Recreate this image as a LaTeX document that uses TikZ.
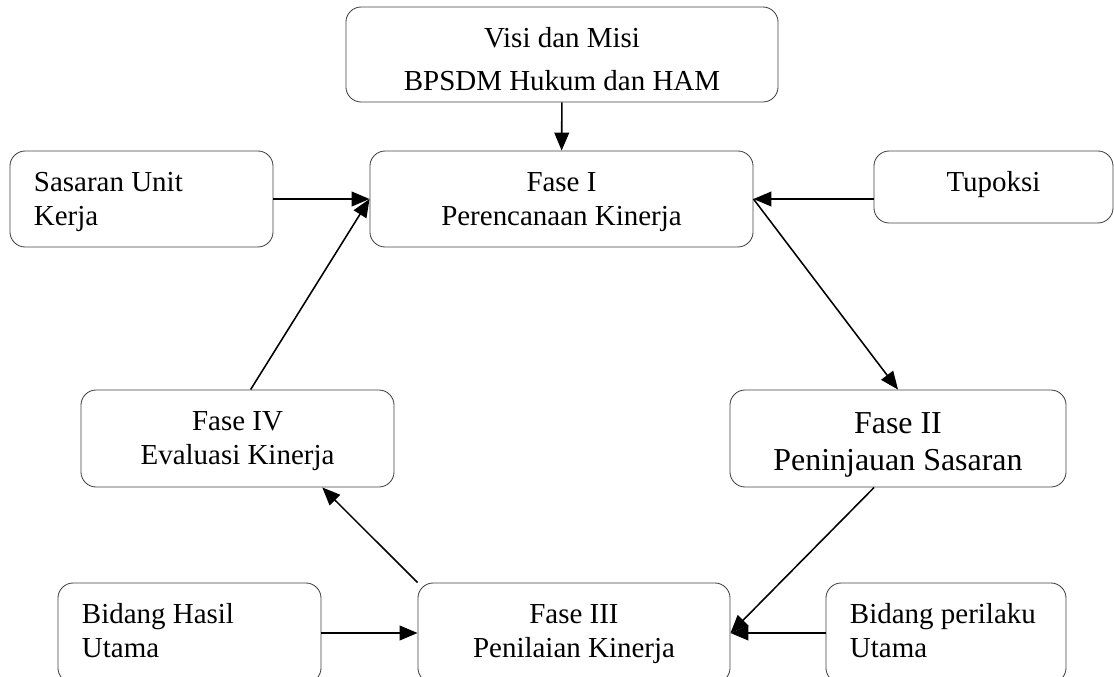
\documentclass[tikz,border=0pt]{standalone}
\usepackage{fontspec}
\setmainfont{Liberation Serif}
\usetikzlibrary{arrows.meta}
\begin{document}
\begin{tikzpicture}[x=0.025cm,y=-0.025cm]
	\tikzset{box/.style = {shape=rectangle,draw=black!75,rounded corners=0.38cm,line width=0.6pt,inner sep=0pt,align=flush center,text height=1.02cm,font=\fontsize{20.6}{23.7}\selectfont}}
	\tikzset{side/.style = {box,align=flush left,inner xsep=0.6cm}}
	\tikzset{flow/.style = {-{Triangle[length=4.5mm,width=3.7mm]},line width=1.1pt}}
	\useasboundingbox (0,0) rectangle (1114,677);
	% fase
	\node[box,text width=10.8cm,text depth=1.355cm,font=\fontsize{20.6}{30.6}\selectfont] (visi) at (562,54.5) {Visi dan Misi\\BPSDM Hukum dan HAM};
	\node[box,text width=9.575cm,text depth=1.38cm] (fase1) at (561.5,199) {Fase I\\Perencanaan Kinerja};
	\node[box,text width=8.4cm,text height=1.09cm,text depth=1.335cm,font=\fontsize{22.7}{26.1}\selectfont] (fase2) at (898,438.5) {Fase II\\Peninjauan Sasaran};
	\node[box,text width=7.8cm,text depth=1.48cm] (fase3) at (574,633) {Fase III\\Penilaian Kinerja};
	\node[box,text width=7.825cm,text depth=1.405cm] (fase4) at (237.5,438.5) {Fase IV\\Evaluasi Kinerja};
	% masukan
	\node[side,text width=5.375cm,text depth=1.38cm] (sasaran) at (141.5,199) {Sasaran Unit\\Kerja};
	\node[box,text width=5.975cm,text depth=0.78cm] (tupoksi) at (993.5,187) {Tupoksi};
	\node[side,text width=5.375cm,text depth=1.48cm] (hasil) at (189.5,633) {Bidang Hasil\\Utama};
	\node[side,text width=4.8cm,text depth=1.48cm] (perilaku) at (946,633) {Bidang perilaku\\Utama};
	% panah
	\path[flow] (visi) edge (fase1);
	\path[flow] (sasaran) edge (fase1);
	\path[flow] (tupoksi.west |- fase1.east) edge (fase1.east);
	\path[flow] (fase4.75) edge (fase1.west);
	\path[flow] (fase1.east) edge (fase2.north);
	\path[flow] (fase2.244) edge (fase3.east);
	\path[flow] (perilaku) edge (fase3);
	\path[flow] (hasil) edge (fase3);
	\path[flow] (fase3.north west) edge (fase4.330);
\end{tikzpicture}
\end{document}
